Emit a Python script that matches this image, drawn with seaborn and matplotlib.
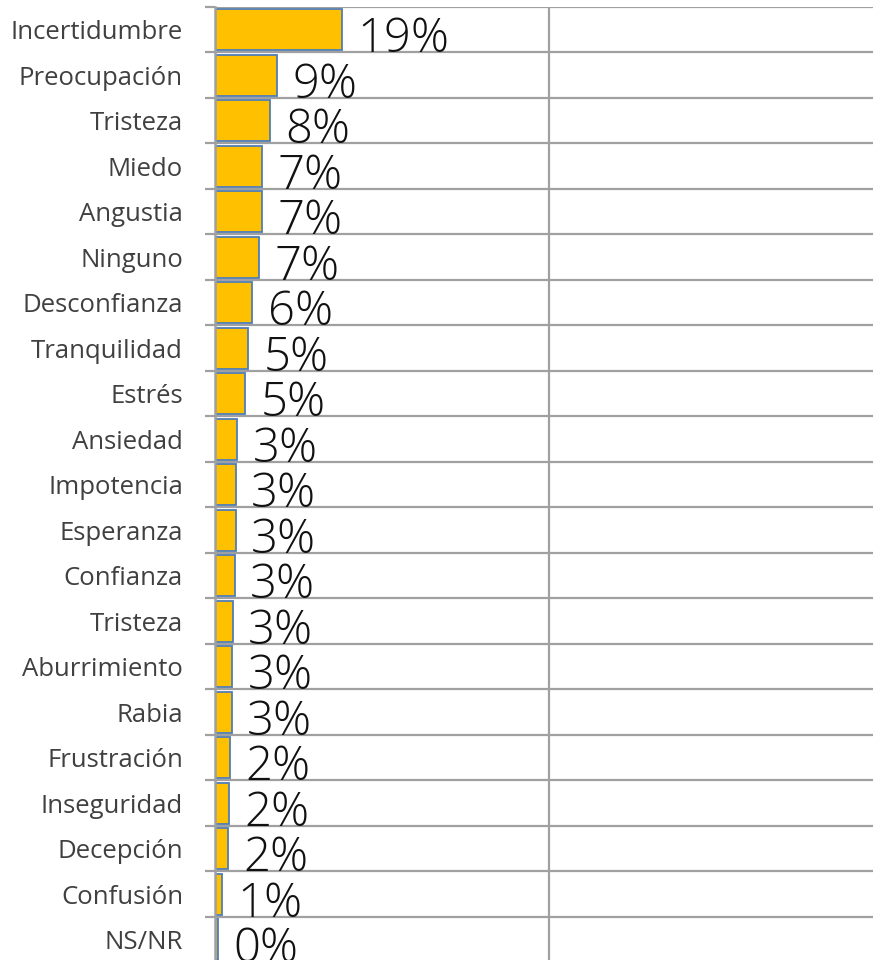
import matplotlib
matplotlib.use("Agg")
import matplotlib.pyplot as plt
import seaborn as sns
import pandas as pd
from matplotlib.ticker import FixedLocator

categorias = ["Incertidumbre", "Preocupación", "Tristeza", "Miedo", "Angustia",
              "Ninguno", "Desconfianza", "Tranquilidad", "Estrés", "Ansiedad",
              "Impotencia", "Esperanza", "Confianza", "Tristeza", "Aburrimiento",
              "Rabia", "Frustración", "Inseguridad", "Decepción", "Confusión", "NS/NR"]
valores = [19.0, 9.3, 8.3, 7.1, 7.0, 6.6, 5.6, 5.0, 4.5, 3.3,
           3.1, 3.1, 2.95, 2.65, 2.6, 2.5, 2.25, 2.1, 2.0, 1.0, 0.4]
etiquetas = ["19%", "9%", "8%", "7%", "7%", "7%", "6%", "5%", "5%", "3%",
             "3%", "3%", "3%", "3%", "3%", "3%", "2%", "2%", "2%", "1%", "0%"]

sns.set_theme(style="white")
plt.rcParams['font.family'] = ['Open Sans', 'DejaVu Sans']

W, H = 873, 960
fig = plt.figure(figsize=(W / 100, H / 100), dpi=100)
ax = fig.add_axes([215 / W, -2.5 / H, 668 / W, 955.5 / H])

n = len(categorias)
df = pd.DataFrame({"pos": [str(i) for i in range(n)], "valor": valores})
sns.barplot(data=df, x="valor", y="pos", orient="h", order=[str(i) for i in range(n)],
            color="#FFC000", saturation=1, width=0.91, edgecolor="#4F7DB5",
            linewidth=1.3, ax=ax, zorder=3)

ax.set_xlim(0, 100)
ax.set_ylim(n - 0.5, -0.5)
ax.set_xlabel("")
ax.set_ylabel("")
ax.set_xticks([50, 100])
ax.tick_params(axis="x", length=0, labelbottom=False)

ax.set_yticks(range(n))
ax.set_yticklabels(categorias)
ax.yaxis.set_minor_locator(FixedLocator([i - 0.5 for i in range(n + 1)]))
ax.tick_params(axis="y", which="major", length=0, pad=23, labelsize=18.5,
               labelcolor="#404040")
ax.tick_params(axis="y", which="minor", length=7.2, width=1.6, color="#A0A0A0",
               left=True)
ax.grid(axis="y", which="minor", color="#A0A0A0", linewidth=1.6, zorder=0)
ax.grid(axis="x", which="major", color="#A0A0A0", linewidth=1.6, zorder=0)
ax.grid(axis="y", which="major", visible=False)

for s in ["top", "right", "bottom"]:
    ax.spines[s].set_visible(False)
ax.spines["left"].set_color("#A0A0A0")
ax.spines["left"].set_linewidth(1.8)
ax.spines["left"].set_zorder(4)

for i, (v, t) in enumerate(zip(valores, etiquetas)):
    ax.annotate(t, xy=(v, i + 0.5), xytext=(11, 0), textcoords="offset points",
                ha="left", va="baseline", fontsize=34, fontweight="light",
                color="#111111", annotation_clip=False)

fig.savefig("out.png", dpi=100)
